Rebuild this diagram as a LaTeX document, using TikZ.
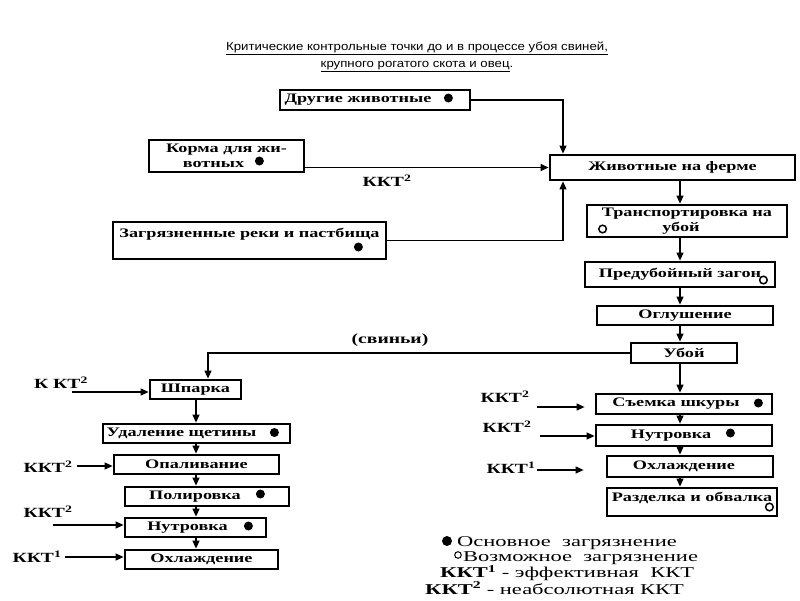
\documentclass[tikz,border=0pt]{standalone}
\usepackage{fontspec}
\setmainfont{Liberation Serif}[FakeStretch=1.4]
\newfontfamily\legendfont{Liberation Serif}[FakeStretch=1.5]
\newfontfamily\titlefont{Liberation Sans}[FakeStretch=1.15]
\usetikzlibrary{arrows.meta,calc}

\begin{document}
\begin{tikzpicture}[
    x=1pt,y=-1pt,
    stagebox/.style={
      draw,line width=2.8pt,inner sep=0pt,align=center,
      font=\bfseries\fontsize{13}{15}\selectfont
    },
    flow/.style={
      -{Triangle[length=8pt,width=7pt]},line width=1.2pt
    },
    kktlabel/.style={
      font=\bfseries\fontsize{14}{16}\selectfont,inner sep=0pt
    },
    legendtext/.style={
      anchor=west,inner sep=0pt,
      font=\legendfont\fontsize{15}{16}\selectfont
    },
    maindot/.style={fill=black},
    possdot/.style={draw=black,line width=1.5pt}
  ]
  \useasboundingbox (0,0) rectangle (800,600);

  % title
  \node[font=\titlefont\fontsize{11.5}{17}\selectfont,align=center] (title) at (417,57)
    {\underline{Критические контрольные точки до и в процессе убоя свиней,}\\
     \underline{крупного рогатого скота и овец}.};

  % sources of contamination
  \node[stagebox,minimum width=190pt,minimum height=20pt] (other) at (375,100)
    {Другие животные\hspace*{34pt}};
  \node[stagebox,minimum width=155pt,minimum height=32pt] (feed) at (226.5,156)
    {Корма для жи-\\вотных\hspace*{26pt}};
  \node[stagebox,minimum width=273pt,minimum height=37pt] (river) at (249.5,240.5)
    {Загрязненные реки и пастбища\\ \mbox{}};

  % common line
  \node[stagebox,minimum width=245pt,minimum height=25pt] (farm) at (672.5,167.5)
    {Животные на ферме};
  \node[stagebox,minimum width=200pt,minimum height=32pt] (trans) at (687,221)
    {Транспортировка на\\убой\hspace*{12pt}};
  \node[stagebox,minimum width=190pt,minimum height=25pt] (pen) at (680,274.5)
    {Предубойный загон};
  \node[stagebox,minimum width=176pt,minimum height=19pt] (stun) at (685,315.5)
    {Оглушение};
  \node[stagebox,minimum width=106pt,minimum height=20pt] (kill) at (684,353)
    {Убой};

  % pigs
  \node[stagebox,minimum width=91pt,minimum height=19pt] (scald) at (195.5,389.5)
    {Шпарка};
  \node[stagebox,minimum width=187pt,minimum height=19pt] (dehair) at (196.5,433.5)
    {Удаление щетины\hspace*{30pt}};
  \node[stagebox,minimum width=165pt,minimum height=19pt] (singe) at (196.5,464.5)
    {Опаливание};
  \node[stagebox,minimum width=164pt,minimum height=19pt] (polish) at (207,496.5)
    {Полировка\hspace*{24pt}};
  \node[stagebox,minimum width=141pt,minimum height=19pt] (evisl) at (195.5,527.5)
    {Нутровка\hspace*{16pt}};
  \node[stagebox,minimum width=153pt,minimum height=19pt] (chilll) at (201.5,559.5)
    {Охлаждение};

  % cattle and sheep
  \node[stagebox,minimum width=176pt,minimum height=20pt] (skin) at (684,404)
    {Съемка шкуры\hspace*{16pt}};
  \node[stagebox,minimum width=176pt,minimum height=21pt] (evisr) at (684,435.5)
    {Нутровка\hspace*{26pt}};
  \node[stagebox,minimum width=166pt,minimum height=21pt] (chillr) at (690,466.5)
    {Охлаждение\hspace*{12pt}};
  \node[stagebox,minimum width=170pt,minimum height=28pt] (cut) at (692,502)
    {Разделка и обвалка\\[-4pt] \mbox{}};

  % contamination marks
  \fill[maindot] ($(other.east)+(-23,-2)$) circle (4.5pt);
  \fill[maindot] ($(feed.east)+(-46,5)$) circle (4.5pt);
  \fill[maindot] ($(river.east)+(-29,6.5)$) circle (4.5pt);
  \draw[possdot] ($(trans.west)+(17,8)$) circle (3.8pt);
  \draw[possdot] ($(pen.east)+(-13,5.5)$) circle (3.8pt);
  \fill[maindot] ($(dehair.east)+(-17,-1)$) circle (4.5pt);
  \fill[maindot] ($(polish.east)+(-30,-2.5)$) circle (4.5pt);
  \fill[maindot] ($(evisl.east)+(-19,-1.5)$) circle (4.5pt);
  \fill[maindot] ($(skin.east)+(-15,-1)$) circle (4.5pt);
  \fill[maindot] ($(evisr.east)+(-43,-2.5)$) circle (4.5pt);
  \draw[possdot] ($(cut.east)+(-9,5)$) circle (3.8pt);

  % column guides
  \coordinate (inx) at (563,0);
  \coordinate (rcol) at (680,0);
  \coordinate (lin) at (208,0);
  \coordinate (lcol) at (196,0);

  % arrows into the farm
  \draw[flow] (other.east) -| (farm.north -| inx);
  \draw[flow] (feed.east |- farm.west) -- (farm.west);
  \draw[flow] (river.east) -| (farm.south -| inx);
  \node[kktlabel] (kkt0) at (387,181) {ККТ\textsuperscript{2}};

  \draw[flow] (farm.south -| rcol) -- (trans.north -| rcol);
  \draw[flow] (trans.south -| rcol) -- (pen.north -| rcol);
  \draw[flow] (pen.south -| rcol) -- (stun.north -| rcol);
  \draw[flow] (stun.south -| rcol) -- (kill.north -| rcol);
  \draw[flow] (kill.south -| rcol) -- (skin.north -| rcol);
  \draw[flow] (skin.south -| rcol) -- (evisr.north -| rcol);
  \draw[flow] (evisr.south -| rcol) -- (chillr.north -| rcol);
  \draw[flow] (chillr.south -| rcol) -- (cut.north -| rcol);

  % pig branch
  \draw[flow] (kill.west) -| (scald.north -| lin);
  \node[kktlabel] (pigs) at (390,340) {(свиньи)};
  \draw[flow] (scald.south -| lcol) -- (dehair.north -| lcol);
  \draw[flow] (dehair.south -| lcol) -- (singe.north -| lcol);
  \draw[flow] (singe.south -| lcol) -- (polish.north -| lcol);
  \draw[flow] (polish.south -| lcol) -- (evisl.north -| lcol);
  \draw[flow] (evisl.south -| lcol) -- (chilll.north -| lcol);

  % control points, left
  \node[kktlabel] (kl1) at (61,383) {К КТ\textsuperscript{2}};
  \coordinate (kl1a) at (72,392);
  \draw[flow] (kl1a) -- (kl1a -| scald.west);
  \node[kktlabel] (kl2) at (48,467) {ККТ\textsuperscript{2}};
  \coordinate (kl2a) at (77,466);
  \draw[flow] (kl2a) -- (kl2a -| singe.west);
  \node[kktlabel] (kl3) at (48,512) {ККТ\textsuperscript{2}};
  \coordinate (kl3a) at (53,525);
  \draw[flow] (kl3a) -- (kl3a -| evisl.west);
  \node[kktlabel] (kl4) at (37,557) {ККТ\textsuperscript{1}};
  \coordinate (kl4a) at (65,557);
  \draw[flow] (kl4a) -- (kl4a -| chilll.west);

  % control points, right
  \node[kktlabel] (kr1) at (505,397) {ККТ\textsuperscript{2}};
  \coordinate (kr1a) at (537,407);
  \draw[flow,shorten >=10pt] (kr1a) -- (kr1a -| skin.west);
  \node[kktlabel] (kr2) at (507,427) {ККТ\textsuperscript{2}};
  \coordinate (kr2a) at (540,436);
  \draw[flow] (kr2a) -- (kr2a -| evisr.west);
  \node[kktlabel] (kr3) at (511,468) {ККТ\textsuperscript{1}};
  \coordinate (kr3a) at (537,470);
  \draw[flow,shorten >=22pt] (kr3a) -- (kr3a -| chillr.west);

  % legend
  \fill[maindot] (447,541) circle (5pt);
  \node[legendtext] (leg1) at (457,543) {Основное\ \ загрязнение};
  \draw[line width=1pt] (458,555) circle (3.3pt);
  \node[legendtext] (leg2) at (463,558) {Возможное\ \ загрязнение};
  \node[legendtext] (leg3) at (440,573) {\textbf{ККТ\textsuperscript{1}} - эффективная\ \ ККТ};
  \node[legendtext] (leg4) at (425,588) {\textbf{ККТ\textsuperscript{2}} - неабсолютная ККТ};
\end{tikzpicture}
\end{document}
